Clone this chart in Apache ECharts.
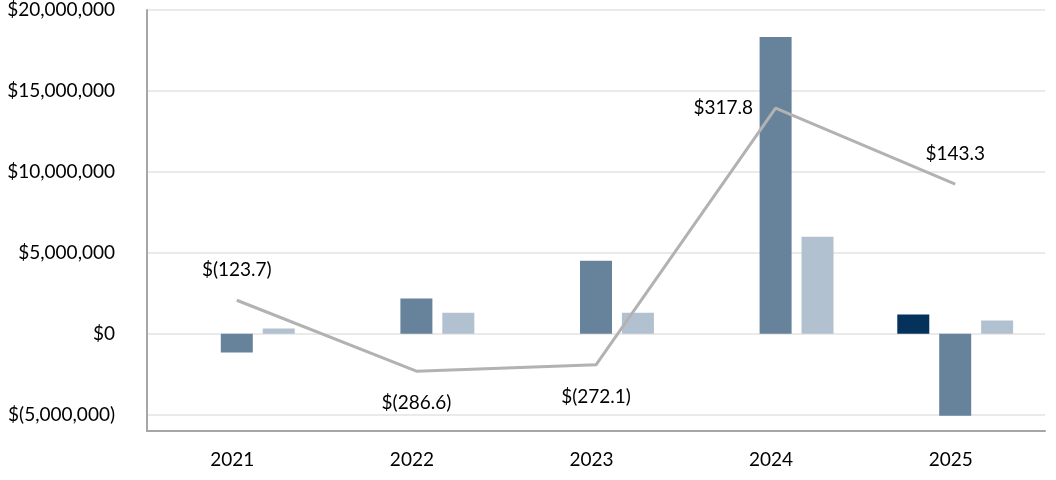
<!DOCTYPE html>
<html>
<head>
<meta charset="utf-8">
<script src="https://cdn.jsdelivr.net/npm/echarts@6/dist/echarts.min.js"></script>
<style>
html,body{margin:0;padding:0;background:#fff;}
#chart{width:1056px;height:480px;}
</style>
</head>
<body>
<div id="chart"></div>
<script>
// ---- data ----
const years = ['2021', '2022', '2023', '2024', '2025'];
const seriesNavy = [null, null, null, null, 1190000];
const seriesSteel = [-1150000, 2180000, 4520000, 18330000, -5060000];
const seriesLight = [330000, 1310000, 1310000, 6000000, 820000];
const lineValues = [-123.7, -286.6, -272.1, 317.8, 143.3];
const yTickLabels = [-5000000, 0, 5000000, 10000000, 15000000, 20000000];

const FONT = 'Lato';

function fmtMoney(v) {
  const s = Math.abs(v).toLocaleString('en-US');
  return v < 0 ? '$(' + s + ')' : '$' + s;
}
function fmtLine(v) {
  const s = Math.abs(v).toFixed(1);
  return v < 0 ? '$(' + s + ')' : '$' + s;
}

const labelPos = ['top', 'bottom', 'bottom', 'left', 'top'];

const chart = echarts.init(document.getElementById('chart'), null, {renderer: 'canvas'});
chart.setOption({
  animation: false,
  backgroundColor: '#ffffff',
  grid: {left: 147, right: 11, top: 10, bottom: 49, containLabel: false},
  xAxis: {
    type: 'category',
    data: years,
    axisLine: {onZero: false, lineStyle: {color: '#a6a6a6', width: 2}},
    axisTick: {show: false},
    axisLabel: {color: '#000', fontFamily: FONT, fontSize: 19, margin: 19, padding: [0, 9, 0, 0]}
  },
  yAxis: [{
    type: 'value',
    min: -6000000,
    max: 20000000,
    interval: 1000000,
    axisLine: {show: true, lineStyle: {color: '#a6a6a6', width: 2}},
    axisTick: {show: false},
    axisLabel: {
      color: '#000', fontFamily: FONT, fontSize: 19, margin: 32,
      formatter: function (v) { return yTickLabels.indexOf(v) >= 0 ? fmtMoney(v) : ''; }
    },
    splitLine: {show: true, lineStyle: {color: ['rgba(0,0,0,0)', '#e3e3e3', 'rgba(0,0,0,0)', 'rgba(0,0,0,0)', 'rgba(0,0,0,0)'], width: 1.5}}
  }, {
    type: 'value',
    show: false,
    min: -424,
    max: 543,
    splitLine: {show: false}
  }],
  series: [{
    type: 'bar', name: 'navy', data: seriesNavy, barWidth: 32, barGap: '31%',
    itemStyle: {color: '#04325a'}
  }, {
    type: 'bar', name: 'steel', data: seriesSteel, barWidth: 32, barGap: '31%',
    itemStyle: {color: '#67829b'}
  }, {
    type: 'bar', name: 'light', data: seriesLight, barWidth: 32, barGap: '31%',
    itemStyle: {color: '#b2c1d0'}
  }, {
    type: 'line', name: 'line', yAxisIndex: 1,
    data: lineValues.map(function (v, i) {
      return {value: v, label: {position: labelPos[i], distance: labelPos[i] === 'left' ? 22 : (labelPos[i] === 'top' ? 20 : 22)}};
    }),
    symbol: 'circle',
    symbolSize: 1,
    showSymbol: true,
    itemStyle: {color: 'rgba(0,0,0,0)'},
    lineStyle: {color: '#b2b2b2', width: 3},
    label: {
      show: true, color: '#000', fontFamily: FONT, fontSize: 19,
      formatter: function (p) { return fmtLine(p.value); }
    },
    z: 5
  }]
});
</script>
</body>
</html>
